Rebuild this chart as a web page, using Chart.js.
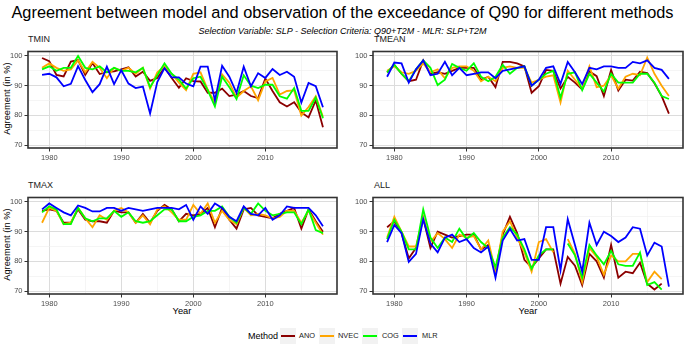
<!DOCTYPE html>
<html><head><meta charset="utf-8">
<script src="https://cdn.jsdelivr.net/npm/chart.js@4.4.1/dist/chart.umd.min.js"></script>
<style>
html,body{margin:0;padding:0;background:#fff;}
body{width:685px;height:345px;position:relative;overflow:hidden;font-family:"Liberation Sans",Arial,sans-serif;}
.abs{position:absolute;white-space:nowrap;line-height:1;}
canvas{position:absolute;}
.key{position:absolute;width:16px;height:16px;top:328px;background:#f2f2f2;}
.key i{position:absolute;left:1px;right:1px;top:7px;height:2px;}
.lab{position:absolute;top:332px;font-size:7.4px;color:#1a1a1a;line-height:8px;}
</style></head><body>
<div class="abs" id="title" style="left:0;width:685px;top:4px;text-align:center;font-size:16.4px;color:#000;">Agreement between model and observation of the exceedance of Q90 for different methods</div>
<div class="abs" id="subtitle" style="left:0;width:685px;top:26.5px;text-align:center;font-size:8px;font-style:italic;color:#000;">Selection Variable: SLP - Selection Criteria: Q90+T2M - MLR: SLP+T2M</div>

<div class="abs" style="left:28px;top:35px;font-size:9px;color:#1a1a1a;">TMIN</div>
<div class="abs" style="left:374px;top:35px;font-size:9px;color:#1a1a1a;">TMEAN</div>
<div class="abs" style="left:28px;top:181px;font-size:9px;color:#1a1a1a;">TMAX</div>
<div class="abs" style="left:374px;top:181px;font-size:9px;color:#1a1a1a;">ALL</div>

<div class="abs" style="left:-52px;width:120px;top:94px;text-align:center;font-size:9.3px;color:#000;transform:rotate(-90deg);">Agreement (in %)</div>
<div class="abs" style="left:-52px;width:120px;top:240px;text-align:center;font-size:9.3px;color:#000;transform:rotate(-90deg);">Agreement (in %)</div>
<div class="abs" style="left:132px;width:100px;top:307px;text-align:center;font-size:9.3px;color:#000;">Year</div>
<div class="abs" style="left:478px;width:100px;top:307px;text-align:center;font-size:9.3px;color:#000;">Year</div>

<div class="abs" style="left:248px;top:331.5px;font-size:9px;color:#000;">Method</div>
<div id="legend"></div>

<canvas id="c1" width="340" height="118" style="left:0;top:45px;"></canvas>
<canvas id="c2" width="340" height="118" style="left:345px;top:45px;"></canvas>
<canvas id="c3" width="340" height="118" style="left:0;top:191px;"></canvas>
<canvas id="c4" width="340" height="118" style="left:345px;top:191px;"></canvas>

<script>
// ---- data ----
const years = [1979,1980,1981,1982,1983,1984,1985,1986,1987,1988,1989,1990,1991,1992,1993,1994,1995,1996,1997,1998,1999,2000,2001,2002,2003,2004,2005,2006,2007,2008,2009,2010,2011,2012,2013,2014,2015,2016,2017,2018];
const methods = ['ANO','NVEC','COG','MLR'];
const xMajorTicks = [1980,1990,2000,2010];
const xMinorTicks = [1985,1995,2005,2015];
const yMajorTicks = [70,80,90,100];
const yMinorTicks = [75,85,95];

const tminANO  = [99.3,98.2,93.6,93.1,98.1,98.6,93.6,97.6,93.9,94.6,94.8,95.5,96.2,93.1,94.7,91.6,92.6,96.1,92.6,89.3,92.5,91.5,91.4,87.6,87.6,89,86.5,87,88.2,86.5,85.8,92.4,88.2,84.4,83,84.4,81,79.3,85,76];
const tminNVEC = [96,97.5,96,95,95.5,98.5,94.5,98,96,92.5,96,95,96,94,96,89,94.5,96.5,94,91,88.5,94,94.5,88.7,84.3,93.8,91,86,88.2,89.8,85.1,91.4,92.6,87,88.2,88.4,79.9,82.8,86.4,79.5];
const tminCOG  = [95.5,96.5,95,96,96,100,96,95.5,96.5,94.5,96,95,95,94.5,96,89.5,93.5,97.5,94,92,89,92.5,93,88.5,83,93,89.5,85.5,93.5,90,89.2,90.3,90.3,86.4,85.6,89.2,81.5,81.5,86,79];
const tminMLR  = [93.6,94,92.8,89.8,90.6,96.6,91.9,87.8,90.5,96.4,90.5,95.2,90.7,89.2,89.7,80.6,91.2,95.9,92.8,92.8,90.7,89.8,96.4,96.4,85,96.7,93,87.6,96.4,89.8,94.2,92.6,95.6,93.6,94.7,93,84.3,90.9,89.8,82.7];

const tmeanANO  = [94.5,97,94,91.5,92,98.5,94,94.5,94,95,96,96,96,92,93,89.5,98,98,97.5,96.5,87.6,89.8,95.3,95,89,93,91,88.7,94.8,93.2,86.5,95.3,88.4,92,91.7,94.7,94.2,90.8,86.5,80.6];
const tmeanNVEC = [95,96.5,94.5,94,95,97.5,94.5,95.5,92.5,96,96.5,96.5,95,91.5,93,91.5,96,96.5,96,96,91,92,93,93.5,84.3,95,92,89,96.5,89.5,90,93.5,89,93,94,93.5,99.5,94,90,86.5];
const tmeanCOG  = [94.5,97,94,91.5,95.5,98.5,96,90.2,92,97.3,96,95,97.5,93,91.5,93,97,94,96,96.5,90,92,94,95,85.9,94,94.5,88.5,94,91,88,94,91,91,91,94,94,91,86.5,85.5];
const tmeanMLR  = [93,97.8,97.5,91,95.5,98.5,93.5,94,98,93.5,96,93.5,94,94.5,94.5,92.5,95,95.5,96,96.5,90,92,96,96.5,90.6,98,94.5,90.5,96,95.5,96.5,96.5,96,96,98,97.5,98.5,96,95.3,92.3];

const tmaxANO  = [97,97.5,97,93,93,97.5,94,93.5,93.5,93,97,96.5,96.5,93,96,93,97,99,97.5,93.5,96,95.5,96,98,91.5,98,94,91,97.5,98,95.5,95,94.5,96,97,98,91,97.5,93.5,90];
const tmaxNVEC = [93,98,97,92.5,93,98,94.5,91.5,95.5,94,97,98,96.5,93,95.5,92.5,97.5,98.5,96.5,94,94,99,96,99.5,93,97,94,92.5,98,95.5,96,95.5,94.5,95,97,97,93,97,93,89];
const tmaxCOG  = [96.5,98.5,97.5,92.5,92.5,98,94.5,93.5,94.5,94.5,97,95,96.5,93.5,93,93.5,95.5,97.5,97.5,93.5,93.5,95,95.5,97,97,98.5,95,93,98,96,99.5,97,95.5,96,96.5,96.5,92.5,97.5,90.5,89.5];
const tmaxMLR  = [97.5,99.5,98,96.5,95.5,98.8,98,96.8,96.8,98,98,97,98,97.5,97,97.5,98,98,98,97.5,99,94,98.5,96,99.5,98,95,93.5,98.5,96,95.5,98,94,95.5,98.5,98,98,98,95.5,91.8];

const allANO  = [91.5,93.5,89.5,81,84.5,94.5,84.5,90,89,88,88.5,89,89,84,85.5,76.5,89,95,89.5,80.5,78,81,84,84,72.5,81.5,78.5,72,82.5,80,74.5,85.5,74.5,76.5,76,79.5,72.5,70.5,72.5,null];
const allNVEC = [88,95,90,85,85,95,86.5,89.5,87.5,84.5,89,88,88.5,84,87,76.5,90,93.5,88,83,76.5,86.5,87.5,83,null,87.5,82.5,73,84.5,81.5,75.5,82,80,80,82.5,82.5,73,76.5,74,null];
const allCOG  = [87.5,94,90,84,84,97.5,88,84.5,88,86.5,91,87.5,89.5,86.5,84.5,78,88,91.5,89,84,77.5,82,84,84,null,86,82,74.5,85.5,82,79,83.5,79,78.5,78.5,83,72,73,70.5,null];
const allMLR  = [86.5,92.3,89.5,79.8,82.5,94.2,86,83,88,89,86.5,87.5,84.5,83,85,74.5,87,91,87,87.5,80.5,80.5,91.5,91.5,77,94.2,85.5,76.5,93,85.5,90,88.5,86.5,88,91.5,91,82,86.3,85,71.5];

// ---- styling ----
const colors = {ANO:'#8B0000', NVEC:'#FFA500', COG:'#00FF00', MLR:'#0000FF'};
const FONT = '"Liberation Sans", Arial, sans-serif';

// legend (HTML)
(function(){
  const keyLeft = [280, 319, 362, 402];
  const labLeft = [299, 338, 382, 422];
  const lg = document.getElementById('legend');
  methods.forEach((m,i)=>{
    const k = document.createElement('div'); k.className='key'; k.style.left = keyLeft[i]+'px';
    const l = document.createElement('i'); l.style.background = colors[m]; k.appendChild(l);
    lg.appendChild(k);
    const t = document.createElement('div'); t.className='lab'; t.style.left = labLeft[i]+'px'; t.textContent = m;
    lg.appendChild(t);
  });
})();

const frame = {
  id:'frame',
  afterDraw(chart){
    const a = chart.chartArea, c = chart.ctx;
    c.save(); c.strokeStyle = '#333333'; c.lineWidth = 1.6;
    c.strokeRect(a.left, a.top, a.right - a.left, a.bottom - a.top);
    c.restore();
  }
};

function makePanel(id, seriesList, padRight){
  const datasets = seriesList.map((vals, i) => ({
    label: methods[i],
    data: years.map((yr, k) => ({x: yr, y: vals[k]})),
    borderColor: colors[methods[i]],
    backgroundColor: colors[methods[i]],
    borderWidth: 1.8,
    pointRadius: 0,
    tension: 0,
    spanGaps: false,
    fill: false,
    order: seriesList.length - 1 - i
  }));
  const isMajorX = v => xMajorTicks.includes(v);
  const isMajorY = v => yMajorTicks.includes(v);
  new Chart(document.getElementById(id), {
    type: 'line',
    data: { datasets },
    plugins: [frame],
    options: {
      responsive: false, animation: false, devicePixelRatio: 1,
      layout: { padding: { top: 4, right: padRight, left: 0, bottom: 0 } },
      plugins: { legend: { display: false }, tooltip: { enabled: false } },
      scales: {
        x: {
          type: 'linear', min: 1977.05, max: 2019.95,
          afterBuildTicks: s => { s.ticks = xMajorTicks.concat(xMinorTicks).sort((a,b)=>a-b).map(v => ({value: v})); },
          afterFit: s => { s.height = 15; },
          ticks: { autoSkip: false, maxRotation: 0, padding: 2, color: '#4d4d4d',
                   font: { family: FONT, size: 7.5 },
                   callback: v => isMajorX(v) ? String(v) : '' },
          grid: { color: c => isMajorX(c.tick.value) ? '#dcdcdc' : '#efefef',
                  lineWidth: c => isMajorX(c.tick.value) ? 1 : 0.6,
                  tickLength: 3.5,
                  tickColor: c => isMajorX(c.tick.value) ? '#333333' : 'rgba(0,0,0,0)' },
          border: { display: false }
        },
        y: {
          type: 'linear', min: 69, max: 101.5,
          afterBuildTicks: s => { s.ticks = yMajorTicks.concat(yMinorTicks).sort((a,b)=>a-b).map(v => ({value: v})); },
          afterFit: s => { s.width = 28; },
          ticks: { autoSkip: false, padding: 2, color: '#4d4d4d',
                   font: { family: FONT, size: 7.5 },
                   callback: v => isMajorY(v) ? String(v) : '' },
          grid: { color: c => isMajorY(c.tick.value) ? '#dcdcdc' : '#efefef',
                  lineWidth: c => isMajorY(c.tick.value) ? 1 : 0.6,
                  tickLength: 3.5,
                  tickColor: c => isMajorY(c.tick.value) ? '#333333' : 'rgba(0,0,0,0)' },
          border: { display: false }
        }
      }
    }
  });
}

makePanel('c1', [tminANO, tminNVEC, tminCOG, tminMLR], 3);
makePanel('c2', [tmeanANO, tmeanNVEC, tmeanCOG, tmeanMLR], 2);
makePanel('c3', [tmaxANO, tmaxNVEC, tmaxCOG, tmaxMLR], 3);
makePanel('c4', [allANO, allNVEC, allCOG, allMLR], 2);

// fit title widths to measured spans
function fitWidth(id, target){
  const el = document.getElementById(id);
  const span = document.createElement('span'); span.textContent = el.textContent;
  el.textContent = ''; el.appendChild(span);
  const fs = parseFloat(getComputedStyle(el).fontSize);
  const w = span.getBoundingClientRect().width;
  el.style.fontSize = (fs * target / w).toFixed(2) + 'px';
}
fitWidth('title', 662);
fitWidth('subtitle', 288);
</script>
</body></html>
